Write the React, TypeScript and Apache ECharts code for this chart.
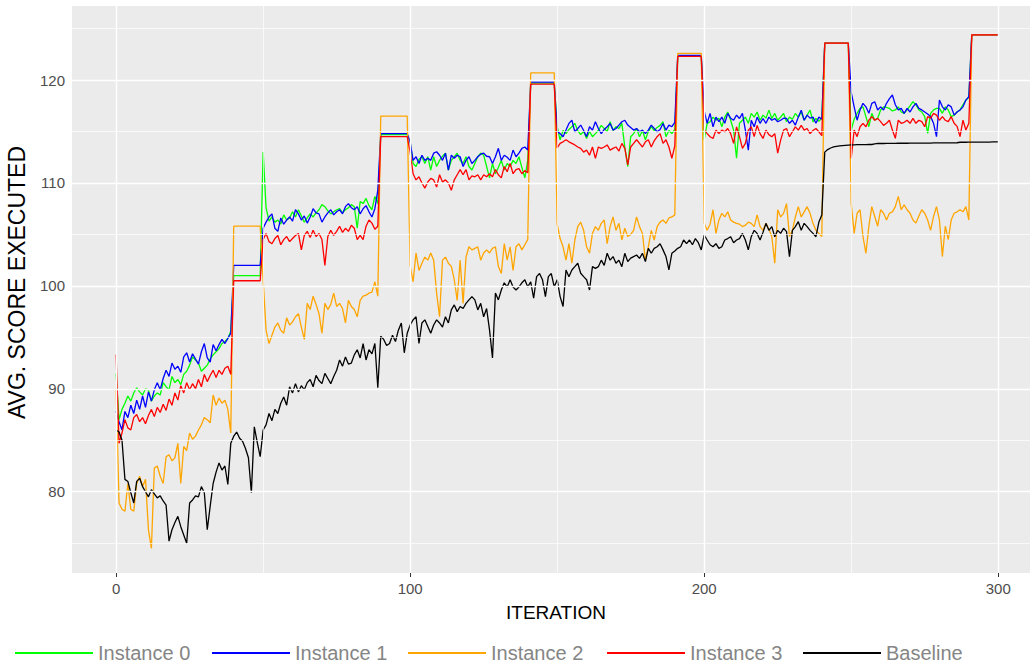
import React, { useEffect, useRef } from "react";
import * as echarts from "echarts";

// Average executed score per iteration, one value per iteration 0..300.
const instance0 = [
  91.5, 87.0, 88.0, 88.6, 89.3, 88.8, 89.6, 90.1, 89.7, 89.4,
  90.0, 89.9, 88.8, 89.3, 89.6, 89.4, 90.6, 90.2, 89.9, 91.2,
  90.6, 90.9, 90.4, 91.4, 91.7, 92.3, 93.1, 92.8, 92.5, 91.7,
  92.0, 92.3, 92.9, 93.3, 93.6, 93.9, 94.4, 94.6, 94.9, 95.6,
  101.0, 101.0, 101.0, 101.0, 101.0, 101.0, 101.0, 101.0, 101.0, 101.0,
  113.0, 107.6, 106.3, 106.7, 106.2, 106.4, 106.0, 106.9, 106.4, 106.6,
  107.2, 106.7, 107.4, 106.8, 106.2, 106.6, 107.0, 106.7, 107.1, 107.4,
  107.9, 107.7, 107.3, 107.0, 107.2, 107.4, 107.5, 107.1, 107.4, 107.6,
  107.9, 107.7, 105.6, 108.2, 108.0, 108.5, 107.8, 107.4, 108.7, 108.0,
  114.7, 114.7, 114.7, 114.7, 114.7, 114.7, 114.7, 114.7, 114.7, 114.7,
  114.0, 111.9, 111.6, 112.3, 112.55, 111.9, 112.55, 111.26, 112.55, 111.6,
  112.2, 112.6, 112.9, 111.26, 112.2, 112.55, 112.9, 112.2, 111.9, 112.55,
  111.6, 111.26, 111.9, 112.55, 112.9, 112.7, 111.6, 110.5, 111.9, 110.9,
  111.5, 112.2, 111.26, 111.9, 111.6, 112.2, 111.9, 112.55, 111.5, 110.5,
  112.2, 119.7, 119.7, 119.7, 119.7, 119.7, 119.7, 119.7, 119.7, 119.7,
  115.47, 114.2, 115.1, 114.8, 115.2, 115.47, 115.8, 115.1, 114.7, 115.0,
  114.33, 115.0, 114.5, 114.8, 115.1, 115.6, 115.3, 115.0, 115.95, 115.1,
  115.47, 115.3, 115.8, 113.5, 111.6, 114.5, 114.8, 115.3, 114.5, 115.1,
  114.2, 115.0, 115.47, 115.1, 115.4, 115.6, 115.95, 114.5, 115.1, 114.8,
  115.2, 122.3, 122.3, 122.3, 122.3, 122.3, 122.3, 122.3, 122.3, 122.3,
  114.17, 115.8, 115.95, 116.4, 116.1, 116.3, 115.46, 116.4, 116.9, 116.1,
  115.14, 112.4, 115.8, 116.1, 116.4, 115.8, 116.76, 116.4, 116.9, 116.1,
  116.6, 116.3, 117.08, 116.27, 116.76, 116.1, 116.4, 116.76, 115.95, 116.4,
  116.2, 116.76, 116.4, 116.9, 116.1, 116.6, 117.08, 115.95, 116.27, 116.0,
  116.3, 123.6, 123.6, 123.6, 123.6, 123.6, 123.6, 123.6, 123.6, 123.6,
  115.15, 116.2, 116.77, 117.25, 117.4, 116.45, 115.47, 116.77, 116.1, 116.3,
  117.1, 117.4, 117.35, 117.25, 117.0, 117.1, 117.4, 116.9, 116.77, 117.1,
  117.5, 117.9, 117.6, 117.1, 116.9, 116.45, 114.83, 116.77, 117.1, 117.25,
  117.25, 116.77, 117.4, 117.1, 116.45, 116.6, 116.9, 117.1, 117.6, 118.06,
  118.3, 124.4, 124.4, 124.4, 124.4, 124.4, 124.4, 124.4, 124.4, 124.4,
  124.4,
];

const instance1 = [
  87.8, 86.8, 86.0, 87.8, 87.2, 88.4, 87.6, 88.9, 88.0, 89.3,
  88.2, 89.7, 88.8, 89.9, 90.6, 89.9, 91.0, 91.8, 91.2, 92.5,
  91.9, 92.2, 91.6, 93.1, 93.5, 92.6, 93.4, 92.9, 92.4, 93.6,
  94.4, 93.0, 92.6, 94.3, 93.7, 94.3, 94.8, 94.4, 94.9, 95.4,
  102.0, 102.0, 102.0, 102.0, 102.0, 102.0, 102.0, 102.0, 102.0, 102.0,
  105.6, 106.2, 106.7, 107.0, 105.6, 105.3, 106.6, 106.0, 106.4, 106.7,
  106.3, 107.4, 107.0, 106.4, 106.8, 106.1, 106.7, 107.5, 107.1, 107.0,
  106.2, 106.7, 107.1, 107.4, 106.9, 107.2, 107.4, 107.0, 107.7, 108.0,
  107.6, 107.4, 107.7, 107.0, 107.5, 107.8, 107.2, 106.7, 107.5, 109.3,
  114.8, 114.8, 114.8, 114.8, 114.8, 114.8, 114.8, 114.8, 114.8, 114.8,
  114.0, 112.2, 112.55, 111.9, 112.7, 112.2, 112.4, 112.2, 112.9, 113.04,
  112.7, 112.2, 112.9, 111.26, 112.7, 112.4, 112.7, 112.55, 111.6, 112.2,
  112.55, 111.9, 112.2, 112.55, 112.8, 112.9, 112.6, 112.55, 111.9, 112.55,
  113.37, 112.2, 112.7, 112.5, 112.2, 113.2, 112.55, 112.9, 113.37, 113.5,
  113.2, 119.8, 119.8, 119.8, 119.8, 119.8, 119.8, 119.8, 119.8, 119.8,
  115.0, 114.8, 114.5, 115.14, 115.79, 116.1, 114.98, 115.3, 115.63, 115.1,
  114.5, 115.47, 115.14, 115.95, 115.3, 114.8, 115.2, 115.47, 115.79, 115.14,
  115.3, 115.63, 115.95, 116.1, 115.63, 115.4, 115.14, 115.3, 114.98, 115.14,
  114.8, 115.14, 115.63, 115.3, 114.98, 115.2, 115.79, 115.14, 115.63, 115.47,
  115.9, 122.4, 122.4, 122.4, 122.4, 122.4, 122.4, 122.4, 122.4, 122.4,
  117.0, 115.8, 116.76, 115.46, 116.4, 115.95, 116.4, 115.8, 116.76, 116.3,
  116.1, 116.6, 116.27, 116.76, 115.14, 113.2, 116.1, 115.46, 116.4, 115.8,
  116.27, 115.8, 116.4, 116.1, 116.27, 115.95, 116.1, 116.3, 116.27, 115.8,
  116.1, 115.63, 116.4, 117.08, 116.1, 116.6, 116.3, 116.4, 115.8, 116.4,
  116.2, 123.6, 123.6, 123.6, 123.6, 123.6, 123.6, 123.6, 123.6, 123.6,
  118.8, 117.4, 116.1, 117.1, 117.74, 117.4, 116.77, 117.74, 117.9, 117.1,
  117.4, 117.1, 117.74, 118.2, 118.55, 117.6, 117.1, 117.25, 116.77, 117.25,
  116.9, 117.4, 117.74, 117.25, 117.1, 116.9, 116.7, 116.45, 115.8, 114.5,
  118.06, 117.4, 117.1, 117.6, 117.4, 116.6, 116.9, 117.1, 117.4, 118.06,
  118.4, 124.4, 124.4, 124.4, 124.4, 124.4, 124.4, 124.4, 124.4, 124.4,
  124.4,
];

const instance2 = [
  90.0, 78.9, 78.3, 78.1, 80.8, 78.3, 78.1, 80.8, 81.5, 80.5,
  81.2, 76.3, 74.5, 82.3, 82.5, 81.5, 80.8, 83.4, 83.6, 83.0,
  83.3, 84.7, 80.8, 84.4, 84.0, 85.7, 85.1, 85.4, 86.0, 86.5,
  87.2, 87.0, 86.7, 89.4, 88.4, 89.1, 88.6, 88.9, 88.0, 85.7,
  105.8, 105.8, 105.8, 105.8, 105.8, 105.8, 105.8, 105.8, 105.8, 105.8,
  100.6, 95.7, 94.4, 95.2, 96.0, 96.4, 95.7, 95.4, 96.9, 96.2,
  96.5, 97.0, 97.3, 96.0, 94.8, 98.3, 97.7, 99.0, 98.2, 97.3,
  95.4, 98.3, 97.7, 98.2, 99.3, 98.0, 98.3, 97.8, 96.4, 98.6,
  98.0, 97.7, 97.0, 98.6, 99.0, 99.1, 99.3, 99.4, 100.4, 99.0,
  116.5, 116.5, 116.5, 116.5, 116.5, 116.5, 116.5, 116.5, 116.5, 116.5,
  102.0, 100.4, 103.2, 101.5, 102.2, 102.8, 102.5, 103.2, 102.5, 99.3,
  97.0, 102.5, 102.8, 102.2, 101.9, 100.6, 98.6, 102.5, 98.3, 102.8,
  103.8, 103.5, 103.65, 103.8, 102.5, 103.2, 103.5, 103.2, 103.65, 103.8,
  101.9, 101.2, 104.1, 102.5, 103.8, 101.5, 103.8, 104.1, 103.5, 104.0,
  104.5, 120.7, 120.7, 120.7, 120.7, 120.7, 120.7, 120.7, 120.7, 120.7,
  106.0, 104.6, 103.8, 102.5, 104.1, 102.2, 104.46, 105.76, 106.2, 105.4,
  103.8, 103.17, 105.1, 105.76, 105.4, 106.08, 106.4, 104.1, 105.76, 106.7,
  105.4, 106.08, 104.46, 105.6, 104.8, 105.0, 105.4, 106.7, 105.76, 105.1,
  102.5, 103.8, 105.4, 104.46, 105.76, 106.2, 106.4, 106.08, 106.6, 106.7,
  106.9, 122.6, 122.6, 122.6, 122.6, 122.6, 122.6, 122.6, 122.6, 122.6,
  106.08, 105.4, 106.0, 107.4, 105.1, 106.4, 107.05, 106.7, 107.2, 106.4,
  106.2, 106.08, 106.0, 105.76, 105.9, 106.2, 106.08, 105.76, 106.9, 105.76,
  105.4, 106.08, 105.5, 104.8, 102.2, 107.4, 106.7, 107.05, 108.0, 104.8,
  105.4, 106.7, 107.7, 106.7, 107.2, 107.7, 107.05, 106.08, 105.4, 105.1,
  104.8, 123.6, 123.6, 123.6, 123.6, 123.6, 123.6, 123.6, 123.6, 123.6,
  108.0, 105.1, 107.06, 107.4, 104.8, 103.17, 105.8, 107.7, 106.75, 105.8,
  107.4, 107.06, 106.4, 107.06, 107.2, 107.7, 108.7, 107.4, 107.87, 107.4,
  107.06, 106.4, 106.1, 106.8, 107.4, 107.06, 106.4, 105.4, 106.75, 107.7,
  106.4, 102.85, 105.8, 104.5, 106.4, 107.06, 107.2, 107.4, 107.2, 107.7,
  106.4, 124.4, 124.4, 124.4, 124.4, 124.4, 124.4, 124.4, 124.4, 124.4,
  124.4,
];

const instance3 = [
  93.3, 84.7, 85.7, 87.0, 86.2, 86.0, 87.2, 87.5, 86.8, 87.2,
  86.6, 87.4, 88.0, 87.3, 88.2, 87.7, 88.5, 87.9, 89.0, 88.4,
  89.6, 88.9, 90.3, 89.6, 90.6, 89.9, 90.5, 90.0, 90.9, 90.2,
  91.4, 90.7, 91.3, 91.8, 91.1, 91.8, 91.4, 92.0, 92.2, 91.4,
  100.5, 100.5, 100.5, 100.5, 100.5, 100.5, 100.5, 100.5, 100.5, 100.5,
  104.5, 105.1, 104.3, 104.1, 104.6, 104.9, 104.0, 104.5, 104.8, 104.3,
  104.6, 104.9, 105.1, 103.5, 104.9, 105.3, 104.7, 105.4, 104.8, 105.1,
  104.5, 102.0, 104.8, 105.4, 104.9, 105.3, 105.8, 105.2, 105.6, 105.3,
  105.9, 105.6, 104.5, 104.9, 104.5, 105.8, 106.4, 106.1, 105.5, 105.8,
  114.5, 114.5, 114.5, 114.5, 114.5, 114.5, 114.5, 114.5, 114.5, 114.5,
  113.0, 110.9, 110.3, 110.6, 110.0, 109.5, 110.1, 110.45, 110.3, 109.6,
  110.8, 110.1, 110.3, 110.0, 109.3, 110.3, 110.8, 111.3, 110.8, 111.3,
  110.3, 110.7, 110.6, 110.8, 110.3, 110.8, 110.6, 110.9, 110.6, 111.3,
  110.8, 110.5, 111.6, 111.1, 111.9, 110.9, 111.3, 111.4, 110.9, 111.2,
  111.0, 119.6, 119.6, 119.6, 119.6, 119.6, 119.6, 119.6, 119.6, 119.6,
  113.4, 113.85, 114.0, 114.2, 114.0, 113.85, 113.7, 113.5, 113.36, 113.0,
  113.2, 112.7, 113.5, 112.4, 113.5, 113.36, 113.5, 113.7, 113.2, 113.36,
  113.5, 113.1, 113.85, 113.36, 111.75, 113.5, 113.85, 114.2, 113.85, 113.5,
  114.0, 114.2, 113.5, 114.1, 114.5, 114.8, 113.85, 114.2, 113.5, 112.4,
  113.6, 122.3, 122.3, 122.3, 122.3, 122.3, 122.3, 122.3, 122.3, 122.3,
  115.2, 114.8, 114.5, 114.33, 115.14, 114.8, 115.14, 114.98, 115.3, 114.8,
  113.85, 115.46, 114.5, 113.36, 113.85, 115.14, 115.46, 114.5, 115.6, 114.8,
  114.33, 115.14, 114.7, 114.5, 114.8, 112.9, 114.17, 115.14, 115.3, 114.5,
  114.98, 115.46, 115.14, 115.6, 115.14, 115.3, 114.8, 115.1, 115.3, 114.98,
  114.6, 123.6, 123.6, 123.6, 123.6, 123.6, 123.6, 123.6, 123.6, 123.6,
  112.4, 115.15, 114.5, 115.47, 115.8, 115.47, 116.1, 116.45, 116.1, 116.28,
  115.96, 115.6, 115.8, 116.1, 115.15, 114.34, 116.1, 115.8, 115.9, 116.1,
  115.8, 116.28, 115.8, 116.1, 115.96, 115.47, 116.45, 116.3, 116.77, 116.6,
  116.1, 116.45, 116.1, 115.96, 116.45, 115.8, 115.5, 114.5, 116.1, 115.15,
  115.8, 124.4, 124.4, 124.4, 124.4, 124.4, 124.4, 124.4, 124.4, 124.4,
  124.4,
];

const baseline = [
  86.0, 85.8, 85.0, 81.2, 81.0, 79.9, 78.9, 81.0, 81.3, 80.5,
  80.0, 79.5, 80.2, 79.8, 79.4, 79.6, 79.1, 78.7, 75.2, 76.3,
  77.0, 77.6, 76.6, 75.8, 75.0, 78.9, 79.2, 79.6, 79.5, 80.5,
  79.9, 76.3, 78.6, 80.8, 81.9, 82.8, 82.1, 82.5, 80.7, 84.7,
  85.4, 85.8, 85.2, 84.9, 84.2, 83.3, 79.9, 86.3, 84.8, 83.4,
  86.0, 86.5, 87.6, 86.9, 88.0, 87.6, 88.6, 89.2, 88.4, 90.2,
  89.6, 90.5, 89.7, 90.3, 89.9, 90.6, 90.9, 90.2, 91.3, 90.8,
  90.5, 91.5, 91.0, 90.5, 91.2, 91.8, 92.8, 92.2, 93.1, 92.4,
  92.5, 93.3, 93.8, 93.0, 94.4, 92.8, 93.8, 93.4, 94.4, 90.1,
  95.1, 94.8, 94.2, 94.4, 95.2, 94.6, 95.7, 96.4, 93.5, 95.4,
  96.2, 96.7, 97.0, 94.4, 96.4, 96.7, 96.05, 95.4, 96.2, 96.7,
  96.4, 96.0, 97.0, 96.4, 97.67, 98.15, 97.5, 98.0, 97.8, 98.3,
  98.64, 98.96, 98.64, 97.67, 98.3, 97.0, 97.8, 95.7, 93.0, 99.3,
  98.64, 99.6, 100.3, 99.9, 100.6, 99.9, 99.6, 99.9, 100.3, 100.6,
  99.9, 100.4, 98.8, 100.9, 101.2, 100.6, 98.96, 100.9, 101.2, 99.9,
  100.6, 98.96, 98.0, 101.55, 100.9, 101.55, 101.87, 102.2, 101.23, 100.9,
  100.6, 99.6, 101.87, 101.7, 101.87, 102.5, 102.0, 103.17, 102.5, 102.85,
  102.2, 102.5, 101.87, 103.17, 102.36, 102.7, 102.85, 103.0, 102.68, 103.17,
  102.36, 103.65, 103.17, 103.65, 103.8, 104.1, 103.5, 102.85, 101.55, 103.17,
  103.4, 103.65, 103.8, 104.46, 104.1, 104.46, 104.0, 104.6, 104.2, 103.5,
  104.95, 104.46, 104.0, 103.8, 104.1, 103.65, 103.8, 104.46, 104.6, 104.78,
  104.2, 104.46, 104.6, 105.1, 104.46, 103.5, 104.78, 105.4, 105.1, 104.46,
  105.2, 106.08, 105.4, 105.76, 104.78, 105.4, 105.1, 105.6, 105.27, 102.84,
  105.4, 105.76, 106.24, 105.4, 106.08, 105.76, 105.4, 105.1, 104.78, 106.2,
  106.9, 113.0, 113.25, 113.4, 113.5, 113.55, 113.6, 113.63, 113.66, 113.68,
  113.7, 113.71, 113.72, 113.72, 113.73, 113.73, 113.74, 113.74, 113.8, 113.84,
  113.84, 113.84, 113.85, 113.85, 113.85, 113.85, 113.86, 113.86, 113.86, 113.86,
  113.87, 113.87, 113.87, 113.87, 113.88, 113.88, 113.88, 113.88, 113.89, 113.89,
  113.89, 113.89, 113.9, 113.9, 113.9, 113.9, 113.91, 113.96, 113.96, 113.96,
  113.97, 113.97, 113.97, 113.97, 113.98, 113.98, 113.98, 113.98, 113.99, 113.99,
  114.0,
];

const seriesNames = ["Instance 0", "Instance 1", "Instance 2", "Instance 3", "Baseline"];
const seriesValues = [instance0, instance1, instance2, instance3, baseline];

// Axis ticks and panel grid lines (ggplot-style major / minor breaks)
const xTicks = [0, 100, 200, 300];
const xMinorBreaks = [50, 150, 250];
const yTicks = [80, 90, 100, 110, 120];
const yMinorBreaks = [75, 85, 95, 105, 115, 125];

// Styling
const seriesColors = ["#00FF00", "#0000FF", "#FFA500", "#FF0000", "#000000"];
const legendLefts = [15, 212, 408, 607, 803];
const FONT = "'Liberation Sans', Arial, Helvetica, sans-serif";

export default function App() {
  const ref = useRef<HTMLDivElement>(null);

  useEffect(() => {
    if (!ref.current) return;
    const chart = echarts.init(ref.current, undefined, { renderer: "svg" });

    const gridLines = [
      ...yMinorBreaks.map((v) => ({ yAxis: v, lineStyle: { width: 0.7 } })),
      ...xMinorBreaks.map((v) => ({ xAxis: v, lineStyle: { width: 0.7 } })),
      ...yTicks.map((v) => ({ yAxis: v, lineStyle: { width: 1.4 } })),
      ...xTicks.map((v) => ({ xAxis: v, lineStyle: { width: 1.4 } })),
    ];

    const lineSeries = seriesNames.map((name, i) => ({
      name,
      type: "line",
      data: seriesValues[i].map((v, k) => [k, v]),
      showSymbol: false,
      symbol: "none",
      color: seriesColors[i],
      lineStyle: { color: seriesColors[i], width: 1.3 },
      z: 3,
      silent: true,
      emphasis: { disabled: true },
    }));

    chart.setOption({
      animation: false,
      textStyle: { fontFamily: FONT },
      grid: {
        left: 72,
        top: 6,
        right: 0,
        height: 567,
        show: true,
        backgroundColor: "#EBEBEB",
        borderWidth: 0,
        containLabel: false,
        outerBoundsMode: "none",
      },
      xAxis: {
        type: "value",
        min: -15,
        max: 310.8,
        name: "ITERATION",
        nameLocation: "middle",
        nameGap: 30,
        nameTextStyle: {
          fontSize: 19,
          color: "#000000",
          fontFamily: FONT,
          padding: [0, 0, 0, 10],
        },
        axisLine: { show: false },
        splitLine: { show: false },
        axisTick: {
          show: true,
          customValues: xTicks,
          length: 4,
          lineStyle: { color: "#333333", width: 1 },
        },
        axisLabel: {
          customValues: xTicks,
          fontSize: 15,
          color: "#4D4D4D",
          margin: 8,
          fontFamily: FONT,
        },
      },
      yAxis: {
        type: "value",
        min: 72.1,
        max: 127.2,
        name: "AVG. SCORE EXECUTED",
        nameLocation: "middle",
        nameRotate: 90,
        nameGap: 44,
        nameTextStyle: {
          fontSize: 23,
          color: "#000000",
          fontFamily: FONT,
          padding: [0, 0, 0, 14],
        },
        axisLine: { show: false },
        splitLine: { show: false },
        axisTick: {
          show: true,
          customValues: yTicks,
          length: 4,
          lineStyle: { color: "#333333", width: 1 },
        },
        axisLabel: {
          customValues: yTicks,
          fontSize: 15,
          color: "#4D4D4D",
          margin: 7,
          fontFamily: FONT,
        },
      },
      legend: seriesNames.map((name, i) => ({
        data: [name],
        left: legendLefts[i],
        top: 642,
        itemWidth: 78,
        itemHeight: 2,
        icon: "rect",
        selectedMode: false,
        padding: 0,
        textStyle: { fontSize: 20, color: "#858585", fontFamily: FONT, lineHeight: 22 },
      })),
      series: [
        {
          name: "panel-grid",
          type: "line",
          data: [],
          z: 1,
          silent: true,
          markLine: {
            silent: true,
            symbol: ["none", "none"],
            label: { show: false },
            emphasis: { disabled: true },
            lineStyle: { color: "#FFFFFF", type: "solid" },
            data: gridLines,
          },
        },
        ...lineSeries,
      ],
    });

    return () => chart.dispose();
  }, []);

  return (
    <div
      ref={ref}
      style={{ position: "absolute", left: 0, top: 0, width: 1030, height: 666 }}
    />
  );
}
